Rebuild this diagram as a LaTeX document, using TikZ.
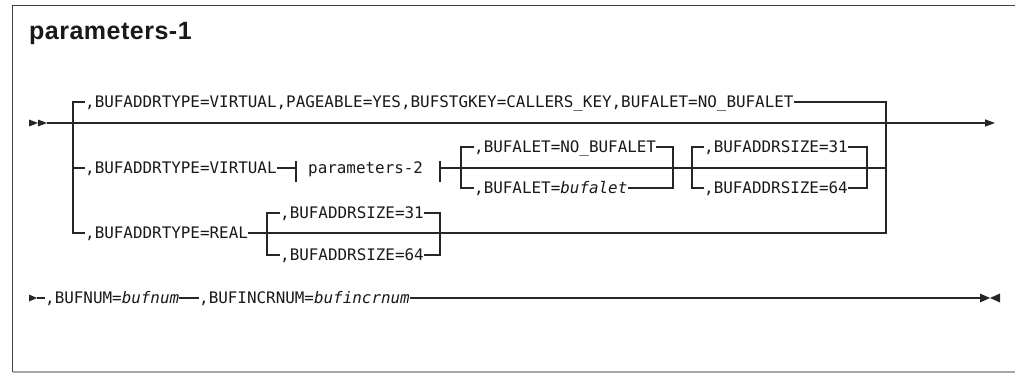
\documentclass[tikz,border=0pt]{standalone}
\usepackage{fontspec}
\setmonofont{DejaVu Sans Mono}
\newfontfamily\titlefont[LetterSpace=2]{Liberation Sans}
\begin{document}
\begin{tikzpicture}[x=1pt,y=-1pt,
  syn/.style={font=\fontsize{15.9}{18}\selectfont\ttfamily, text=black!90, anchor=west, inner sep=0pt, text height=11.5pt, text depth=0pt},
  ln/.style={line width=1.2pt, draw=black!85},
  tip/.style={fill=black!85}]
\useasboundingbox (0,0) rectangle (1015,373);
% frame
\draw[black!75, line width=1.2pt] (1016,5.5) -- (12.5,5.5) -- (12.5,372);
\draw[black!35, line width=1.2pt] (12.5,372) -- (1016,372);
\node[anchor=base west, inner sep=0pt, font=\titlefont\bfseries\fontsize{25}{28}\selectfont, text=black!90] (title) at (29,39) {parameters-1};
% nodes
\node[syn] (t1) at (85,102) {,BUFADDRTYPE=VIRTUAL,PAGEABLE=YES,BUFSTGKEY=CALLERS\_KEY,BUFALET=NO\_BUFALET};
\node[syn] (t2) at (85,168) {,BUFADDRTYPE=VIRTUAL};
\node[syn] (p2) at (308,168) {parameters-2};
\node[syn] (a1) at (474,147) {,BUFALET=NO\_BUFALET};
\node[syn] (a2) at (474,188) {,BUFALET=\textit{bufalet}};
\node[syn] (s1) at (704,147) {,BUFADDRSIZE=31};
\node[syn] (s2) at (704,188) {,BUFADDRSIZE=64};
\node[syn] (t3) at (85,233) {,BUFADDRTYPE=REAL};
\node[syn] (r1) at (280,213) {,BUFADDRSIZE=31};
\node[syn] (r2) at (280,255) {,BUFADDRSIZE=64};
\node[syn] (n1) at (45,298) {,BUFNUM=\textit{bufnum}};
\node[syn] (n2) at (199,298) {,BUFINCRNUM=\textit{bufincrnum}};
% coordinates
\coordinate (S) at (47,123);
\coordinate (E) at (985,123);
\coordinate (L) at (73,123);
\coordinate (R) at (886,123);
\coordinate (k1) at (296,168);
\coordinate (k2) at (440,168);
\coordinate (g2l) at (461,168);
\coordinate (g2r) at (673,168);
\coordinate (g3l) at (692,168);
\coordinate (g3r) at (867,168);
\coordinate (g4l) at (267,233);
\coordinate (g4r) at (440,233);
\coordinate (S2) at (37,298);
\coordinate (E2) at (980,298);
% start / end marks
\fill[tip] (29,119.5) -- (38,123) -- (29,126.5) -- cycle;
\fill[tip] (38,119.5) -- (47,123) -- (38,126.5) -- cycle;
\fill[tip] (985,119.3) -- (995,123) -- (985,126.7) -- cycle;
% main line
\draw[ln] (S) -- (E);
% outer rails
\draw[ln] (t1.west) -| (L) |- (t3.west);
\draw[ln] (L |- t2.west) -- (t2.west);
\draw[ln] (t1.east) -| (R) |- (g4r);
% row 2
\draw[ln] (t2.east) -- (k1);
\draw[ln] ([yshift=7pt]k1) -- ([yshift=-14pt]k1);
\draw[ln] ([yshift=7pt]k2) -- ([yshift=-14pt]k2);
\draw[ln] (k2) -- (R |- k2);
\draw[ln] (a1.west) -| (g2l) |- (a2.west);
\draw[ln] (a1.east) -| (g2r) |- (a2.east);
\draw[ln] (s1.west) -| (g3l) |- (s2.west);
\draw[ln] (s1.east) -| (g3r) |- (s2.east);
% row 3
\draw[ln] (t3.east) -- (g4r);
\draw[ln] (r1.west) -| (g4l) |- (r2.west);
\draw[ln] (r1.east) -| (g4r) |- (r2.east);
% second line
\fill[tip] (29,294.5) -- (37,298) -- (29,301.5) -- cycle;
\draw[ln] (S2) -- (n1.west);
\draw[ln] (n1.east) -- (n2.west);
\draw[ln] (n2.east) -- (E2);
\fill[tip] (980,293.5) -- (990,298) -- (980,302.5) -- cycle;
\fill[tip] (1000,293.5) -- (990,298) -- (1000,302.5) -- cycle;
\end{tikzpicture}
\end{document}
